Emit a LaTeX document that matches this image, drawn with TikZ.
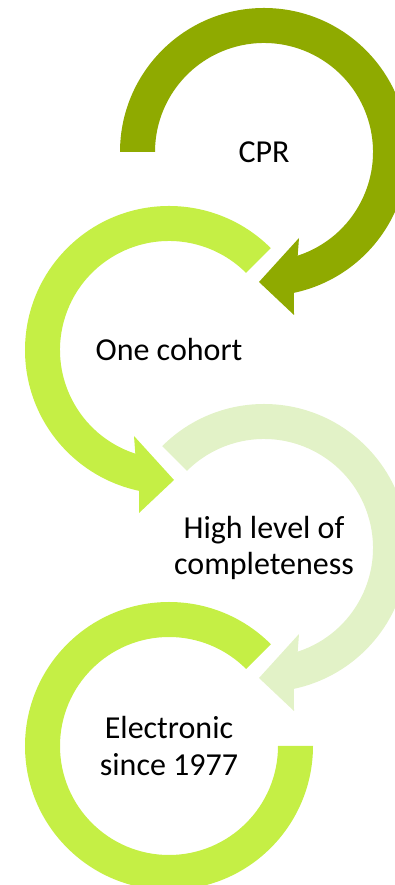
\documentclass[tikz,border=0pt]{standalone}
\usepackage{fontspec}
\setmainfont{Carlito}
\usetikzlibrary{positioning}
\definecolor{darkolive}{RGB}{143,170,0}
\definecolor{limegreen}{RGB}{197,239,69}
\definecolor{palelime}{RGB}{226,242,199}

\begin{document}
\begin{tikzpicture}[x=1pt, y=1pt, label/.style={align=center, font=\fontsize{32}{36.5}\selectfont}]
\useasboundingbox (0,0) rectangle (395,885);
\coordinate (c1) at (264,733); \coordinate (c2) at (169,535);
\coordinate (c3) at (264,337); \coordinate (c4) at (169,139);
\fill[color=darkolive, shift={(c1)}] (180:144pt) arc[start angle=180, end angle=-78, radius=144pt] -- (30,-163) -- (-5,-130) -- (35,-86) -- (-72:109pt) arc[start angle=-72, end angle=180, radius=109pt] -- cycle;
\fill[color=limegreen, shift={(c2)}] (45:144pt) arc[start angle=45, end angle=258, radius=144pt] -- (-30,-163) -- (5,-130) -- (-35,-86) -- (252:109pt) arc[start angle=252, end angle=45, radius=109pt] -- cycle;
\fill[color=palelime, shift={(c3)}] (135:144pt) arc[start angle=135, end angle=-78, radius=144pt] -- (30,-163) -- (-5,-130) -- (35,-86) -- (-72:109pt) arc[start angle=-72, end angle=135, radius=109pt] -- cycle;
\fill[color=limegreen, shift={(c4)}] (45:144pt) arc[start angle=45, end angle=360, radius=144pt] -- (0:109pt) arc[start angle=360, end angle=45, radius=109pt] -- cycle;
\node[label] (cpr) at (c1) {CPR};
\node[label] (cohort) at (c2) {One cohort};
\node[label] (complete) at (c3) {High level of\\completeness};
\node[label] (electronic) at (c4) {Electronic\\since 1977};
\end{tikzpicture}
\end{document}
